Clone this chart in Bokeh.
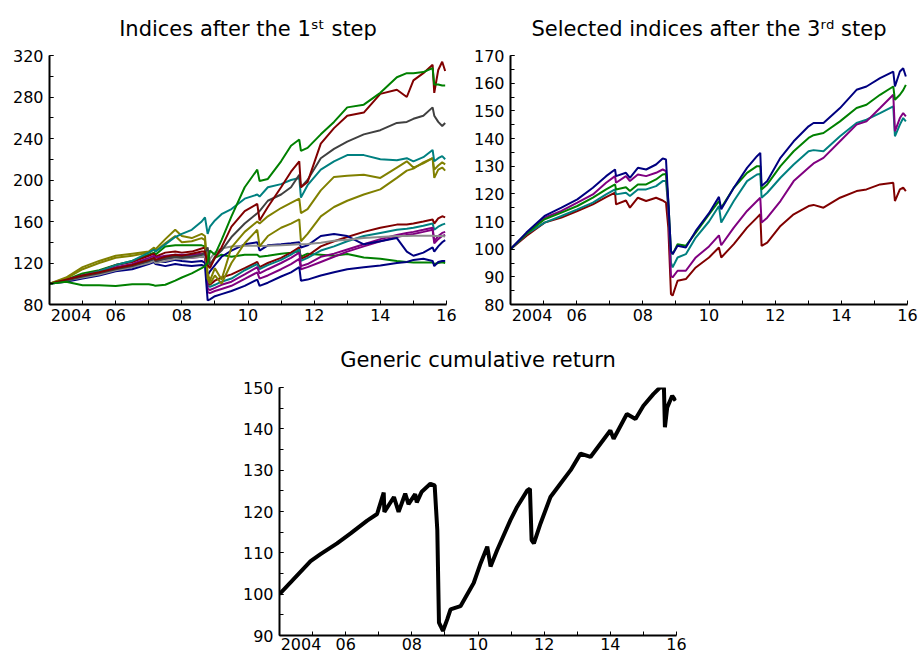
from bokeh.plotting import figure
from bokeh.layouts import column, row
from bokeh.models import Range1d, FixedTicker, CustomJSTickFormatter
from bokeh.embed import file_html
from bokeh.resources import INLINE

# ---------------- data ----------------
# Panel 1: indices after the 1st step (shared date grid, decimal years)
T1 = [2004.0, 2004.5, 2005.0, 2005.5, 2006.0, 2006.5, 2007.0, 2007.16, 2007.2, 2007.5,
      2007.8, 2008.0, 2008.3, 2008.6, 2008.7, 2008.78, 2008.85, 2009.0, 2009.2, 2009.5,
      2009.9, 2010.28, 2010.35, 2010.6, 2011.0, 2011.3, 2011.55, 2011.6, 2011.8, 2012.2,
      2012.6, 2013.0, 2013.5, 2014.0, 2014.5, 2014.8, 2015.0, 2015.3, 2015.58, 2015.63,
      2015.75, 2015.87, 2015.96]

green_a = [100, 102, 98.5, 98.5, 97.8, 99.5, 99.5, 98.5, 98, 99,
           103, 106, 110, 115, 117, 120, 132, 128, 142, 165,
           193, 210, 199, 201, 218, 233, 239, 228, 231, 244,
           256, 270, 272.6, 284, 299, 303, 303, 304, 307.8, 292,
           292, 291, 291]
green_b = [100, 104, 110, 113, 118, 122, 128, 130, 128, 136,
           137, 137, 137, 137, 136, 124, 118, 125, 128, 126,
           128, 128, 126, 127, 129, 130, 131, 126, 129, 128,
           127, 128.7, 125.4, 124, 122, 121, 120.6, 120.6, 120.6, 119,
           120, 120.6, 120]
red_a = [100, 104, 108, 111, 115, 118, 123, 125, 123, 126,
         128, 127, 129, 131, 131, 118, 115, 125, 135, 155,
         170, 177, 161, 174, 193, 208, 218, 193, 198, 235,
         250, 262, 265, 283, 287, 280, 296, 303, 311, 284,
         306, 314, 305]
red_b = [100, 104, 108, 112, 118, 121, 127, 129, 126, 130,
         131, 130, 131, 134, 135, 100, 99, 103, 106, 109,
         115, 121, 116, 120, 125, 130, 135, 124, 127, 136,
         141, 145, 150, 154, 157, 157, 158, 160, 162, 158,
         163, 165, 164]
teal_a = [100, 103, 108, 112, 118, 122, 130, 133, 131, 138,
          145, 148, 152, 160, 164, 148, 155, 161, 167, 172,
          182, 186, 184, 193, 196, 200, 202, 183, 195, 210,
          218, 224, 224, 220, 219, 221, 218, 222, 229, 218,
          221, 223, 220]
teal_b = [100, 103, 107, 110, 114, 118, 123, 125, 123, 125,
          127, 126, 127, 128, 128, 98, 97, 99, 102, 105,
          113, 119, 114, 118, 123, 128, 133, 122, 125, 132,
          136, 141, 146, 149, 152, 153, 154, 156, 158, 152,
          155, 157, 158]
purple_a = [100, 104, 108, 111, 116, 119, 125, 127, 125, 127,
            128, 128, 128, 129, 129, 95, 94, 96, 99, 102,
            109, 116, 110, 114, 120, 125, 130, 117, 119, 126,
            129, 133, 138, 143, 147, 149, 150, 152, 154, 141,
            146, 149, 150]
purple_b = [100, 103, 107, 110, 114, 117, 122, 124, 122, 124,
            125, 125, 125, 126, 126, 92, 91, 93, 95, 98,
            104.6, 111, 105, 108, 114, 119, 124, 114, 116, 121,
            126, 131, 136, 141, 145, 147, 148, 150, 152, 139,
            143, 146, 147]
blue_a = [100, 103, 106, 109, 113, 116, 121, 123, 121, 121,
          123, 122, 121, 122, 120, 108, 112, 118, 126, 132,
          138, 140, 132, 137, 138, 139, 140, 135, 137, 146,
          148, 146, 138, 141, 144, 131, 127, 130, 135, 131,
          136, 140, 142]
blue_b = [100, 102, 105, 108, 112, 114, 119, 121, 119, 117,
          119, 118, 117, 118, 117, 84, 85, 88, 90, 93,
          98, 104, 98, 101, 107, 111, 116, 103, 104, 108,
          111, 114, 116, 117.5, 120, 121, 123, 124, 122, 117,
          121, 122, 122]
lightgray = [100, 103, 106, 109, 113, 116, 120, 122, 120, 122,
             124, 124, 125, 126, 126, 118, 124, 130, 134, 136,
             136.6, 136.6, 136.5, 136.6, 137, 137.5, 138, 138, 138.2, 139.5,
             141.4, 142.5, 144, 145, 146, 146, 146.2, 146.2, 146.2, 146,
             146, 146, 145.5]
darkgray = [100, 103, 107, 110, 114, 117, 122, 124, 122, 124,
            126, 125, 126, 128, 130, 135, 118, 126, 132, 145,
            158, 168, 170, 180, 186, 193, 205, 193, 200, 221,
            230, 237, 244, 248, 255, 256, 259, 262, 270, 262,
            256, 252, 255]
olive_a = [100, 106, 116, 122, 127, 129, 131, 135, 133, 143,
           152, 146, 144, 148, 146, 110, 103, 115, 104, 135,
           150, 160, 158, 165, 173, 178, 182, 168, 172, 190,
           203, 204, 205, 202, 212, 218, 212, 216, 221, 210,
           214, 217, 215]
olive_b = [100, 105, 114, 120, 125, 127, 130, 133, 131, 139,
           146, 140, 141, 144, 142, 105, 100, 108, 100, 120,
           139, 152, 136, 146, 154, 158, 162, 141, 148, 165,
           174, 180, 186, 191, 202, 209, 211, 217, 221, 202,
           210, 212, 209]

# Panel 2: selected indices after the 3rd step
T2 = [2004.0, 2004.48, 2005.03, 2005.54, 2006.02, 2006.49, 2006.89, 2007.16, 2007.19, 2007.49,
      2007.61, 2007.85, 2008.1, 2008.4, 2008.6, 2008.7, 2008.77, 2008.85, 2008.9, 2009.05,
      2009.3, 2009.6, 2010.0, 2010.3, 2010.37, 2010.75, 2011.15, 2011.45, 2011.55, 2011.59,
      2011.76, 2012.16, 2012.56, 2013.01, 2013.16, 2013.46, 2013.96, 2014.46, 2014.76, 2015.17,
      2015.57, 2015.62, 2015.77, 2015.87, 2015.95]
sel_blue = [100, 106, 112, 115, 118, 122.2, 126.4, 128.8, 126.4, 127.6,
            125.8, 129.4, 128.8, 130.6, 132.8, 132.4, 117.4, 99.4, 98.2, 101.2,
            100.6, 106.6, 113, 118.9, 114.4, 122.2, 129.4, 133.6, 134.8, 122.8,
            124.6, 133, 139, 144.4, 145.6, 145.6, 151, 157.6, 158.8, 161.8,
            164.2, 158.8, 164.2, 165.4, 162.4]
sel_green = [100, 105.6, 110.8, 113.2, 115.6, 118.6, 121.6, 123.4, 121.6, 122.4,
             121, 123.4, 123.4, 125.2, 127, 127.2, 117.4, 99.4, 98.2, 101.8,
             101.2, 106, 112.6, 117.4, 115, 122.2, 127.6, 130, 130, 121.6,
             123.4, 130, 135.4, 140.2, 141.2, 142, 146.2, 151, 152.2, 155.8,
             158.8, 154, 155.8, 157.5, 159.4]
sel_teal = [100, 105.4, 109.6, 112, 114.4, 116.8, 119.8, 121.6, 119.8, 120.4,
            119.2, 121.6, 121.6, 122.8, 124.6, 124.6, 115, 95.2, 93.4, 97,
            98.2, 104.2, 110, 115.6, 109.6, 117.4, 124.6, 127, 127.2, 118.6,
            120.4, 125.8, 130.6, 135.4, 135.8, 135.4, 140.8, 145.6, 146.8, 149.2,
            151.6, 140.8, 145, 147.4, 146.2]
sel_purple = [100, 105.6, 111.4, 113.8, 116.8, 119.8, 124, 126.4, 124, 126.4,
              124.6, 127, 126.4, 127.6, 128.8, 128.2, 115, 90.4, 89.8, 92.2,
              92.2, 97, 101, 105, 101.4, 107.8, 113.8, 117.4, 118.6, 109.6,
              111.4, 117.4, 124.6, 129.4, 131, 133, 139, 145, 146.2, 151,
              155.8, 142.6, 147.4, 149.2, 148]
sel_red = [100, 104.8, 109.6, 111.4, 113.8, 116.2, 118.8, 120.4, 116.2, 117.6,
           115, 118.6, 117.4, 118.6, 117.6, 116.8, 107.8, 83.8, 83.2, 88.6,
           89.2, 93.4, 97, 100.6, 97, 101.8, 107.8, 111.4, 112.6, 101.2,
           102.4, 108.4, 112.6, 115.6, 116, 115, 118.6, 121, 121.6, 123.4,
           124, 117.4, 121.6, 122.2, 121]

# Panel 3: generic cumulative return
T3 = [2004.0, 2004.94, 2005.24, 2005.74, 2006.15, 2006.65, 2006.95, 2007.15, 2007.17, 2007.46,
      2007.6, 2007.8, 2007.9, 2008.1, 2008.15, 2008.3, 2008.56, 2008.69, 2008.77, 2008.82,
      2008.87, 2008.94, 2009.07, 2009.17, 2009.47, 2009.87, 2010.08, 2010.28, 2010.38, 2010.58,
      2010.98, 2011.18, 2011.49, 2011.57, 2011.62, 2011.69, 2011.89, 2012.19, 2012.49, 2012.8,
      2013.1, 2013.4, 2013.7, 2014.0, 2014.1, 2014.5, 2014.76, 2015.0, 2015.3, 2015.5,
      2015.62, 2015.65, 2015.72, 2015.87, 2015.97]
generic = [100, 108, 109.7, 112.3, 114.7, 117.8, 119.4, 124.6, 119.9, 123.5,
           119.9, 124.3, 121.8, 124.2, 122.2, 124.8, 126.7, 126.3, 115.5, 93.1,
           92.3, 91.1, 93.9, 96.3, 97.1, 102.7, 107.5, 111.5, 106.7, 110.7,
           117.9, 121.1, 125.1, 125.5, 113.1, 112.3, 117.1, 123.5, 126.7, 130,
           134, 133.2, 136.4, 139.6, 137.6, 143.6, 142.4, 145.6, 148.4, 150,
           150, 140.4, 145.2, 148, 146.8]

YEAR_MAJOR = [2004.65, 2006, 2008, 2010, 2012, 2014, 2016]
YEAR_MINOR = list(range(2004, 2017))

TITLE1 = "Indices after the 1\u02e2\u1d57 step"
TITLE2 = "Selected indices after the 3\u02b3\u1d48 step"
TITLE3 = "Generic cumulative return"

GREEN, MAROON, TEAL, OLIVE = "#008000", "#800000", "#008080", "#808000"
NAVY, PURPLE, DGRAY, LGRAY = "#000080", "#800080", "#404040", "#8c8c8c"

FONT = "DejaVu Sans"


def make_fig(title, width, height, borders, yr, yticks, yminor, standoff, xstandoff=4):
    left, right, top, bottom = borders
    p = figure(width=width, height=height, output_backend="svg", toolbar_location=None,
               x_range=Range1d(2004, 2016), y_range=Range1d(*yr),
               min_border_left=left, min_border_right=right,
               min_border_top=top, min_border_bottom=bottom)
    p.title.text = title
    p.title.align = "center"
    p.title.text_font = FONT
    p.title.text_font_size = "21px"
    p.title.text_font_style = "normal"
    p.title.text_color = "black"
    p.title.standoff = standoff
    p.outline_line_color = None
    p.xgrid.visible = False
    p.ygrid.visible = False
    p.background_fill_color = "white"
    p.border_fill_color = "white"

    xa = p.xaxis[0]
    xa.ticker = FixedTicker(ticks=YEAR_MAJOR, minor_ticks=YEAR_MINOR)
    xa.formatter = CustomJSTickFormatter(
        code='return tick < 2005 ? "2004" : ("0" + (Math.round(tick) % 100)).slice(-2);')
    xa.major_tick_in = 0
    xa.major_tick_out = 0
    xa.minor_tick_in = 4
    xa.minor_tick_out = 0
    xa.major_label_standoff = xstandoff

    ya = p.yaxis[0]
    ya.ticker = FixedTicker(ticks=yticks, minor_ticks=yminor)
    ya.major_tick_in = 4
    ya.major_tick_out = 0
    ya.minor_tick_in = 4
    ya.minor_tick_out = 0
    ya.major_label_standoff = 6

    for ax in (xa, ya):
        ax.axis_line_width = 2
        ax.axis_line_color = "black"
        ax.major_tick_line_color = "black" if ax is ya else None
        ax.minor_tick_line_color = "black"
        ax.major_label_text_font = FONT
        ax.major_label_text_font_size = "16px"
        ax.major_label_text_color = "black"
    return p


p1 = make_fig(TITLE1, 470, 327, (49, 24, 54, 23), (80, 320),
              list(range(80, 321, 40)), list(range(80, 321, 20)), 29)
series1 = [
    (green_b, GREEN), (red_b, MAROON), (teal_b, TEAL), (purple_a, PURPLE), (purple_b, PURPLE),
    (blue_a, NAVY), (blue_b, NAVY), (lightgray, LGRAY), (olive_b, OLIVE), (olive_a, OLIVE),
    (teal_a, TEAL), (darkgray, DGRAY), (red_a, MAROON), (green_a, GREEN),
]
for vals, col in series1:
    p1.line(T1, vals, line_color=col, line_width=2)

p2 = make_fig(TITLE2, 449, 327, (39, 12, 54, 23), (80, 170),
              list(range(80, 171, 10)), list(range(80, 171, 5)), 29)
series2 = [(sel_red, MAROON), (sel_teal, TEAL), (sel_purple, PURPLE),
           (sel_green, GREEN), (sel_blue, NAVY)]
for vals, col in series2:
    p2.line(T2, vals, line_color=col, line_width=2)

p3 = make_fig(TITLE3, 700, 329, (279, 24, 60, 21), (90, 150),
              list(range(90, 151, 10)), list(range(90, 151, 5)), 31, xstandoff=2)
p3.line(T3, generic, line_color="black", line_width=4)

layout = column(row(p1, p2), p3)

with open("out.html", "w") as f:
    f.write(file_html(layout, INLINE))
